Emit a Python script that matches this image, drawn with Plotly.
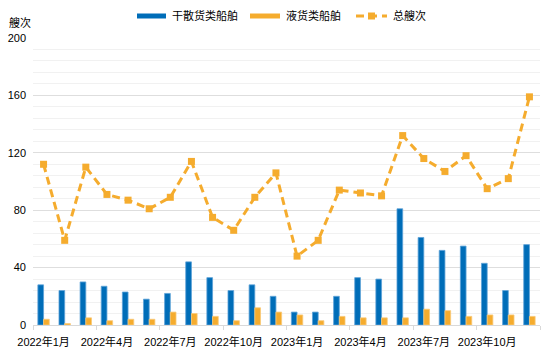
import plotly.graph_objects as go

months = ["2022年1月","2022年2月","2022年3月","2022年4月","2022年5月","2022年6月",
          "2022年7月","2022年8月","2022年9月","2022年10月","2022年11月","2022年12月",
          "2023年1月","2023年2月","2023年3月","2023年4月","2023年5月","2023年6月",
          "2023年7月","2023年8月","2023年9月","2023年10月","2023年11月","2023年12月"]
dry_bulk = [28, 24, 30, 27, 23, 18, 22, 44, 33, 24, 28, 20,
            9, 9, 20, 33, 32, 81, 61, 52, 55, 43, 24, 56]
liquid = [4, 1, 5, 3, 4, 4, 9, 8, 6, 3, 12, 9,
          7, 3, 6, 5, 5, 5, 11, 10, 6, 7, 7, 6]
total = [112, 59, 110, 91, 87, 81, 89, 114, 75, 66, 89, 106,
         48, 59, 94, 92, 90, 132, 116, 107, 118, 95, 102, 159]
tick_labels = ["2022年1月","2022年4月","2022年7月","2022年10月",
               "2023年1月","2023年4月","2023年7月","2023年10月"]
series_names = ["干散货类船舶", "液货类船舶", "总艘次"]
y_title = "艘次"

BLUE = "#006DB8"
ORANGE = "#F5AC2E"
FONT = "Liberation Sans, Noto Sans CJK SC, sans-serif"

W, H = 554, 354
ML, MR, MT, MB = 33, 14, 38, 29
PW, PH = W - ML - MR, H - MT - MB

def px(x):
    return (x - ML) / PW

def py(y):
    return (H - MB - y) / PH

xs = list(range(len(months)))

fig = go.Figure()
fig.add_trace(go.Bar(x=xs, y=dry_bulk, name=series_names[0],
                     marker=dict(color=BLUE, line=dict(color="#5DA2D8", width=0.8)),
                     showlegend=False))
fig.add_trace(go.Bar(x=xs, y=liquid, name=series_names[1],
                     marker=dict(color=ORANGE, line=dict(color="#F9C978", width=0.8)),
                     showlegend=False))
fig.add_trace(go.Scatter(x=xs, y=total, name=series_names[2], mode="lines+markers",
                         line=dict(color=ORANGE, width=3, dash="8px,5px"),
                         marker=dict(symbol="square", size=7, color=ORANGE),
                         showlegend=False))

tickvals = [months.index(t) for t in tick_labels]

fig.update_layout(
    width=W, height=H,
    margin=dict(l=ML, r=MR, t=MT, b=MB, autoexpand=False),
    paper_bgcolor="white", plot_bgcolor="white",
    barmode="group", bargap=0.46, bargroupgap=0,
    font=dict(family=FONT, size=11, color="#000000"),
    xaxis=dict(range=[-0.5, len(months) - 0.5], tickmode="array",
               tickvals=tickvals, ticktext=tick_labels, ticks="",
               ticklabelstandoff=7, automargin=False,
               showgrid=False, zeroline=False,
               showline=True, linecolor="#D9D9D9", linewidth=1,
               tickfont=dict(size=11),
               minor=dict(tickmode="array",
                          tickvals=[v - 0.5 for v in tickvals] + [len(months) - 0.5],
                          ticks="outside", ticklen=4, tickcolor="#D9D9D9", tickwidth=1,
                          showgrid=False)),
    yaxis=dict(range=[0, 200], tickmode="linear", tick0=0, dtick=40,
               showgrid=True, gridcolor="#DEDEDE", gridwidth=1,
               zeroline=False, showline=False, ticks="", automargin=False,
               ticklabelstandoff=6, tickfont=dict(size=11),
               minor=dict(dtick=8, showgrid=True, gridcolor="#F1F1F1", gridwidth=1)),
)

shapes = []
annotations = []
# custom legend
shapes.append(dict(type="rect", xref="paper", yref="paper",
                   x0=px(137), x1=px(166), y0=py(18.5), y1=py(13.5),
                   fillcolor=BLUE, line=dict(width=0)))
annotations.append(dict(xref="paper", yref="paper", x=px(170), y=py(16),
                        xanchor="left", yanchor="middle", showarrow=False,
                        text=series_names[0], font=dict(size=11)))
shapes.append(dict(type="rect", xref="paper", yref="paper",
                   x0=px(250), x1=px(280), y0=py(18.5), y1=py(13.5),
                   fillcolor=ORANGE, line=dict(width=0)))
annotations.append(dict(xref="paper", yref="paper", x=px(284), y=py(16),
                        xanchor="left", yanchor="middle", showarrow=False,
                        text=series_names[1], font=dict(size=11)))
shapes.append(dict(type="line", xref="paper", yref="paper",
                   x0=px(356), x1=px(387), y0=py(16), y1=py(16),
                   line=dict(color=ORANGE, width=3, dash="8px,5px")))
shapes.append(dict(type="rect", xref="paper", yref="paper",
                   x0=px(368), x1=px(375), y0=py(19.5), y1=py(12.5),
                   fillcolor=ORANGE, line=dict(width=0)))
annotations.append(dict(xref="paper", yref="paper", x=px(391), y=py(16),
                        xanchor="left", yanchor="middle", showarrow=False,
                        text=series_names[2], font=dict(size=11)))
# y title
annotations.append(dict(xref="paper", yref="paper", x=px(7), y=py(23),
                        xanchor="left", yanchor="middle", showarrow=False,
                        text=y_title, font=dict(size=11)))

fig.update_layout(shapes=shapes, annotations=annotations)
fig.write_html("out.html")
